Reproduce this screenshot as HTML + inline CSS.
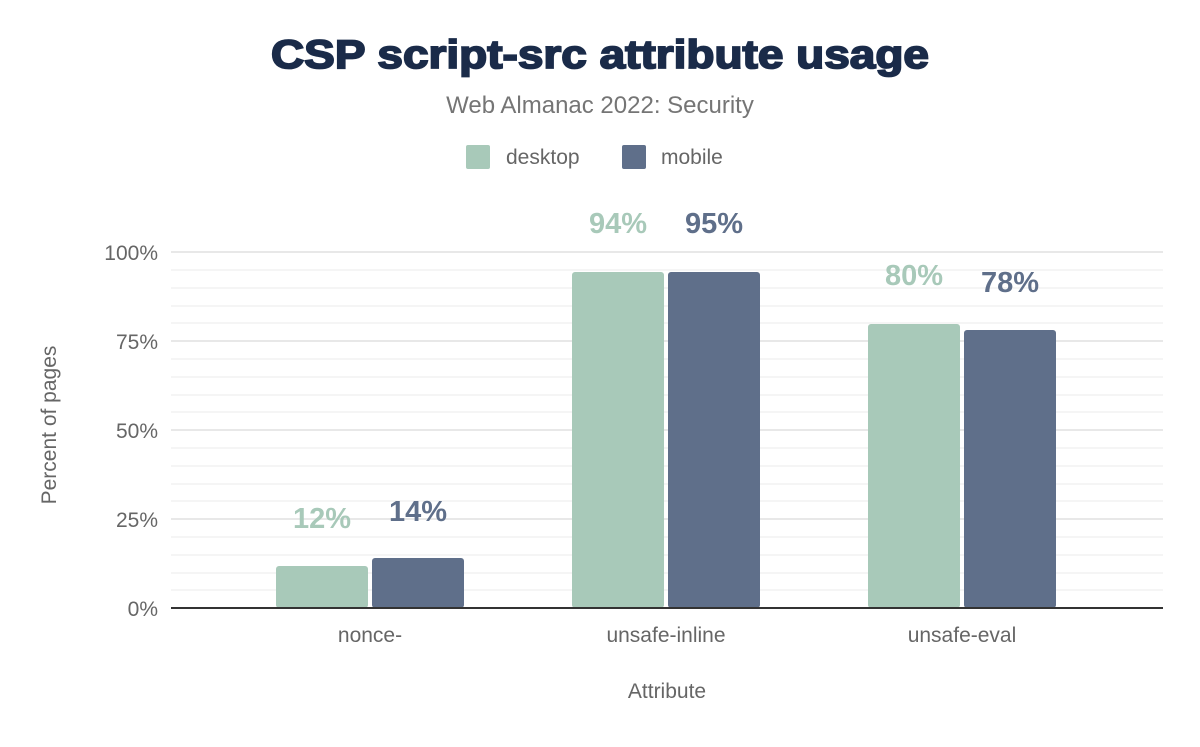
<!DOCTYPE html>
<html><head><style>
body{margin:0;background:#fff;}
svg text{font-family:"Liberation Sans",sans-serif;}
</style></head><body>
<svg width="1200" height="742" xmlns="http://www.w3.org/2000/svg">
<rect width="1200" height="742" fill="#fff"/>
<text x="600" y="68" text-anchor="middle" font-size="40" font-weight="900" fill="#1a2b49" stroke="#1a2b49" stroke-width="1.8" textLength="658" lengthAdjust="spacingAndGlyphs">CSP script-src attribute usage</text>
<text x="600" y="113" text-anchor="middle" font-size="24" fill="#757575">Web Almanac 2022: Security</text>
<rect x="466" y="145" width="24" height="24" rx="2" fill="#a8c9b9"/>
<text x="506" y="164" font-size="21" fill="#666">desktop</text>
<rect x="622" y="145" width="24" height="24" rx="2" fill="#5f6f8a"/>
<text x="661" y="164" font-size="21" fill="#666">mobile</text>
<g stroke="#f2f2f2" stroke-width="1.5">
<line x1="171" x2="1163" y1="270" y2="270"/>
<line x1="171" x2="1163" y1="288" y2="288"/><line x1="171" x2="1163" y1="306" y2="306"/>
<line x1="171" x2="1163" y1="323" y2="323"/><line x1="171" x2="1163" y1="359" y2="359"/>
<line x1="171" x2="1163" y1="377" y2="377"/><line x1="171" x2="1163" y1="395" y2="395"/>
<line x1="171" x2="1163" y1="412" y2="412"/><line x1="171" x2="1163" y1="448" y2="448"/>
<line x1="171" x2="1163" y1="466" y2="466"/><line x1="171" x2="1163" y1="484" y2="484"/>
<line x1="171" x2="1163" y1="501" y2="501"/><line x1="171" x2="1163" y1="537" y2="537"/>
<line x1="171" x2="1163" y1="555" y2="555"/><line x1="171" x2="1163" y1="573" y2="573"/>
<line x1="171" x2="1163" y1="590" y2="590"/>
</g>
<g stroke="#e8e8e8" stroke-width="2">
<line x1="171" x2="1163" y1="252" y2="252"/><line x1="171" x2="1163" y1="341" y2="341"/>
<line x1="171" x2="1163" y1="430" y2="430"/><line x1="171" x2="1163" y1="519" y2="519"/>
</g>
<g font-size="21" fill="#666" text-anchor="end">
<text x="158" y="260">100%</text><text x="158" y="349">75%</text><text x="158" y="438">50%</text><text x="158" y="527">25%</text><text x="158" y="616">0%</text>
</g>
<text transform="translate(56,425) rotate(-90)" text-anchor="middle" font-size="21" fill="#666">Percent of pages</text>
<g>
<rect x="276" y="566" width="92" height="42" rx="3" fill="#a8c9b9"/>
<rect x="372" y="558" width="92" height="50" rx="3" fill="#5f6f8a"/>
<rect x="572" y="272" width="92" height="336" rx="3" fill="#a8c9b9"/>
<rect x="668" y="272" width="92" height="336" rx="3" fill="#5f6f8a"/>
<rect x="868" y="324" width="92" height="284" rx="3" fill="#a8c9b9"/>
<rect x="964" y="330" width="92" height="278" rx="3" fill="#5f6f8a"/>
</g>
<line x1="171" x2="1163" y1="608" y2="608" stroke="#333" stroke-width="2"/>
<g font-size="29" font-weight="bold" text-anchor="middle">
<text x="322" y="528" fill="#a8c9b9">12%</text><text x="418" y="521" fill="#5f6f8a">14%</text>
<text x="618" y="233" fill="#a8c9b9">94%</text><text x="714" y="233" fill="#5f6f8a">95%</text>
<text x="914" y="285" fill="#a8c9b9">80%</text><text x="1010" y="292" fill="#5f6f8a">78%</text>
</g>
<g font-size="21" fill="#666" text-anchor="middle">
<text x="370" y="642">nonce-</text><text x="666" y="642">unsafe-inline</text><text x="962" y="642">unsafe-eval</text>
<text x="667" y="698">Attribute</text>
</g>
</svg>
</body></html>
